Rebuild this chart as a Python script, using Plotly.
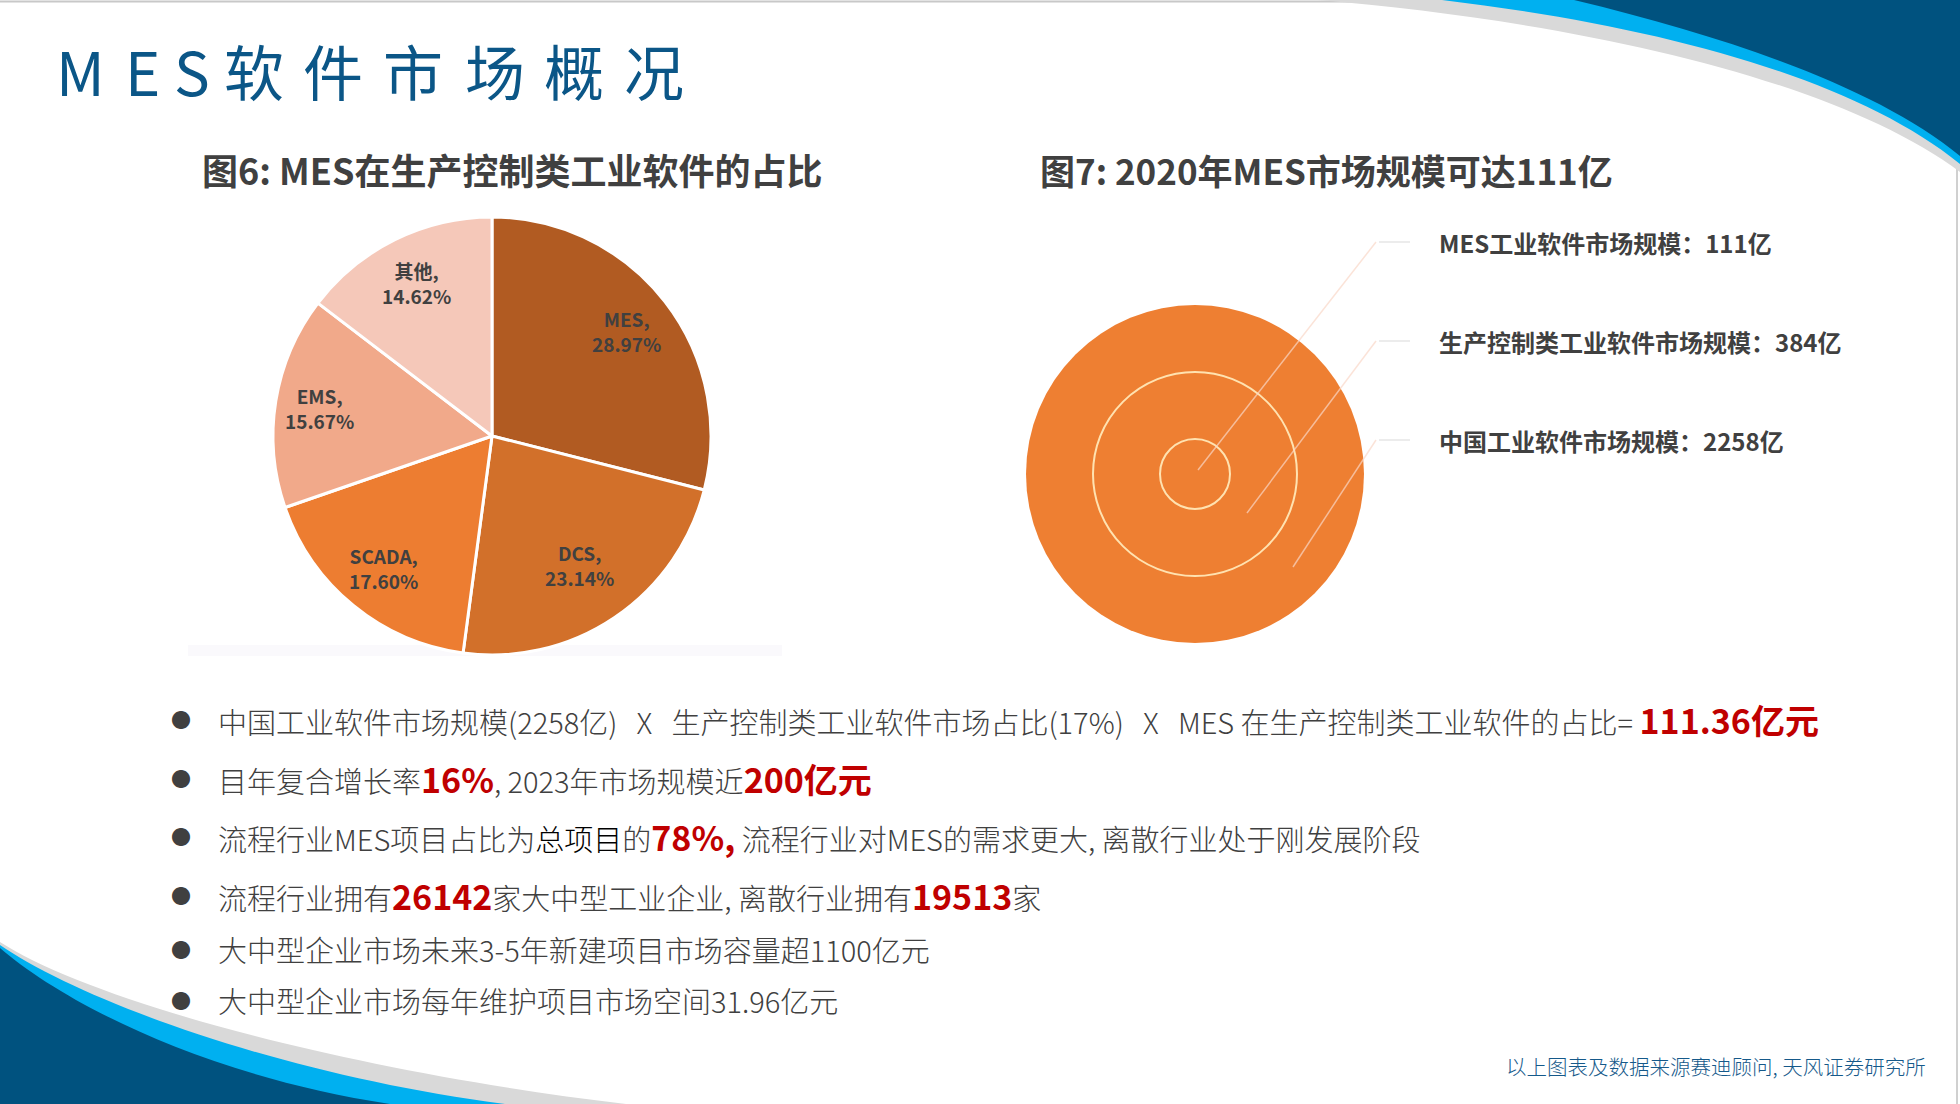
import math
import plotly.graph_objects as go

W, H = 1960, 1104

# ---------------- data ----------------
pie_labels = ["MES", "DCS", "SCADA", "EMS", "其他"]
pie_values = [28.97, 23.14, 17.60, 15.67, 14.62]

market_labels = ["MES工业软件市场规模", "生产控制类工业软件市场规模", "中国工业软件市场规模"]
market_values = [111, 384, 2258]

# ---------------- styles ----------------
FONT = "Noto Sans CJK SC, Noto Sans, sans-serif"
TXT = "#404040"
RED = "#C00000"
DARK_BLUE = "#00527F"
LIGHT_BLUE = "#00B0F0"
GRAY = "#D9D9D9"
pie_colors = ["#B15B22", "#D2702A", "#ED7D31", "#F1A98A", "#F5C8B9"]
ORANGE = "#EE7F32"

pie_cx, pie_cy, pie_r = 492, 436, 219
label_r = [0.78, 0.71, 0.78, 0.80, 0.78]   # label distance (fraction of radius), style
ring_cx, ring_cy = 1195, 474
ring_radii = [35, 102, 169]          # inner -> outer (style sizes)
label_x = 1437
label_y = [242, 341, 440]

fig = go.Figure()

# invisible trace to create pixel-mapped cartesian axes
fig.add_trace(go.Scatter(x=[0, W], y=[0, H], mode="markers",
                         marker=dict(opacity=0), hoverinfo="skip", showlegend=False))

# ---------------- pie ----------------
fig.add_trace(go.Pie(
    labels=pie_labels, values=pie_values, sort=False, direction="clockwise", rotation=0,
    marker=dict(colors=pie_colors, line=dict(color="white", width=3)),
    textinfo="none", hoverinfo="label+percent", showlegend=False,
    domain=dict(x=[(pie_cx - pie_r) / W, (pie_cx + pie_r) / W],
                y=[(H - pie_cy - pie_r) / H, (H - pie_cy + pie_r) / H]),
))

annotations = []
shapes = []

# pie labels on slice bisectors
total = sum(pie_values)
cum = 0.0
for lab, v, lr in zip(pie_labels, pie_values, label_r):
    mid = (cum + v / 2) / total * 2 * math.pi
    cum += v
    rr = lr * pie_r
    annotations.append(dict(
        x=pie_cx + rr * math.sin(mid), y=pie_cy - rr * math.cos(mid), xref="x", yref="y",
        text=f"<b>{lab},<br>{v:.2f}%</b>", showarrow=False,
        font=dict(family=FONT, size=19, color=TXT), align="center"))

# ---------------- borders & decorations ----------------
shapes.append(dict(type="line", x0=0, x1=W, y0=1.5, y1=1.5, xref="x", yref="y",
                   line=dict(color="#C8C8C8", width=2), layer="below"))
shapes.append(dict(type="line", x0=W - 3, x1=W - 3, y0=0, y1=H, xref="x", yref="y",
                   line=dict(color="#D0D0D0", width=2), layer="below"))

# top-right bands
shapes.append(dict(type="path", xref="x", yref="y", layer="below", line=dict(width=0),
                   fillcolor=GRAY, path="M 1318,0 C 1560,20 1830,75 1960,172 L 1960,0 Z"))
shapes.append(dict(type="path", xref="x", yref="y", layer="below", line=dict(width=0),
                   fillcolor=LIGHT_BLUE, path="M 1442,0 C 1650,25 1850,75 1960,164 L 1960,0 Z"))
shapes.append(dict(type="path", xref="x", yref="y", layer="below", line=dict(width=0),
                   fillcolor=DARK_BLUE, path="M 1574,0 C 1740,40 1880,90 1960,156 L 1960,0 Z"))
# bottom-left bands
shapes.append(dict(type="path", xref="x", yref="y", layer="below", line=dict(width=0),
                   fillcolor=GRAY, path="M 0,942 C 90,1000 340,1070 626,1104 L 0,1104 Z"))
shapes.append(dict(type="path", xref="x", yref="y", layer="below", line=dict(width=0),
                   fillcolor=LIGHT_BLUE, path="M 0,945 C 80,1000 280,1075 505,1104 L 0,1104 Z"))
shapes.append(dict(type="path", xref="x", yref="y", layer="below", line=dict(width=0),
                   fillcolor=DARK_BLUE, path="M 0,948 C 60,1000 200,1075 390,1104 L 0,1104 Z"))

# faint image edge under pie
shapes.append(dict(type="rect", xref="x", yref="y", layer="below", line=dict(width=0),
                   x0=188, x1=782, y0=645, y1=656, fillcolor="#FAF9FC"))

# ---------------- concentric circles ----------------
outer = ring_radii[-1]
shapes.append(dict(type="circle", xref="x", yref="y", layer="above",
                   x0=ring_cx - outer, x1=ring_cx + outer, y0=ring_cy - outer, y1=ring_cy + outer,
                   fillcolor=ORANGE, line=dict(width=0)))
for r in ring_radii[:-1]:
    shapes.append(dict(type="circle", xref="x", yref="y", layer="above",
                       x0=ring_cx - r, x1=ring_cx + r, y0=ring_cy - r, y1=ring_cy + r,
                       line=dict(color="#FFE2B0", width=2)))

# leader lines (callouts)
callout_start = [(1198, 470), (1247, 513), (1293, 567)]
for (sx, sy), ly in zip(callout_start, label_y):
    shapes.append(dict(type="line", xref="x", yref="y", layer="above",
                       x0=sx, y0=sy, x1=1376, y1=ly, line=dict(color="rgba(250,215,200,0.7)", width=1.5)))
    shapes.append(dict(type="line", xref="x", yref="y", layer="above",
                       x0=1379, y0=ly, x1=1410, y1=ly, line=dict(color="#E6E6E6", width=1.5)))

for lab, val, ly in zip(market_labels, market_values, label_y):
    annotations.append(dict(x=label_x, y=ly, xref="x", yref="y", xanchor="left", yanchor="middle",
                            text=f"<b>{lab}：{val}亿</b>", showarrow=False,
                            font=dict(family=FONT, size=24, color=TXT)))

# ---------------- titles ----------------
title_chars = list("MES软件市场概况")
title_x = [54, 123, 172, 222, 301, 381, 463, 542, 622]
for ch, tx in zip(title_chars, title_x):
    annotations.append(dict(x=tx, y=69, xref="x", yref="y", xanchor="left", yanchor="middle",
                            text=ch, showarrow=False,
                            font=dict(family=FONT, size=60, color="#0B5687")))

annotations.append(dict(x=512, y=169, xref="x", yref="y", xanchor="center", yanchor="middle",
                        text="<b>图6: MES在生产控制类工业软件的占比</b>", showarrow=False,
                        font=dict(family=FONT, size=36, color=TXT)))
annotations.append(dict(x=1326, y=169, xref="x", yref="y", xanchor="center", yanchor="middle",
                        text=f"<b>图7: 2020年MES市场规模可达{market_values[0]}亿</b>", showarrow=False,
                        font=dict(family=FONT, size=35, color=TXT)))

# ---------------- bullet text ----------------
def red(s, size=34):
    return f'<span style="color:{RED};font-size:{size}px"><b>{s}</b></span>'

NB = "\u00a0"
SEP = NB * 3 + "X" + NB * 3
rows = [
    f"{market_labels[2]}({market_values[2]}亿){SEP}生产控制类工业软件市场占比(17%){SEP}MES{NB}在生产控制类工业软件的占比={NB}"
    + red("111.36亿元"),
    "目年复合增长率" + red("16%") + ", 2023年市场规模近" + red("200亿元"),
    "流程行业MES项目占比为" + '<span style="color:#000000">总项目</span>' + "的" + red("78%,")
    + " 流程行业对MES的需求更大, 离散行业处于刚发展阶段",
    "流程行业拥有" + red("26142") + "家大中型工业企业, 离散行业拥有" + red("19513") + "家",
    "大中型企业市场未来3-5年新建项目市场容量超1100亿元",
    "大中型企业市场每年维护项目市场空间31.96亿元",
]
row_y = [719, 778, 836, 895, 949, 1000]
for txt, ry in zip(rows, row_y):
    annotations.append(dict(x=181, y=ry, xref="x", yref="y", xanchor="center", yanchor="middle",
                            text="●", showarrow=False, font=dict(family=FONT, size=20, color=TXT)))
    annotations.append(dict(x=216, y=ry, xref="x", yref="y", xanchor="left", yanchor="middle",
                            text=txt, showarrow=False, font=dict(family=FONT, size=29, color=TXT, weight=300)))

annotations.append(dict(x=1928, y=1066, xref="x", yref="y", xanchor="right", yanchor="middle",
                        text="以上图表及数据来源赛迪顾问, 天风证券研究所", showarrow=False,
                        font=dict(family=FONT, size=20.5, color="#15598A", weight=300)))

fig.update_layout(
    width=W, height=H, margin=dict(l=0, r=0, t=0, b=0),
    paper_bgcolor="white", plot_bgcolor="white",
    xaxis=dict(range=[0, W], visible=False, fixedrange=True),
    yaxis=dict(range=[H, 0], visible=False, fixedrange=True),
    shapes=shapes, annotations=annotations, showlegend=False,
)

fig.write_html("out.html", config={"displayModeBar": False},
               post_script="document.body.style.margin='0';document.body.style.overflow='hidden';")
